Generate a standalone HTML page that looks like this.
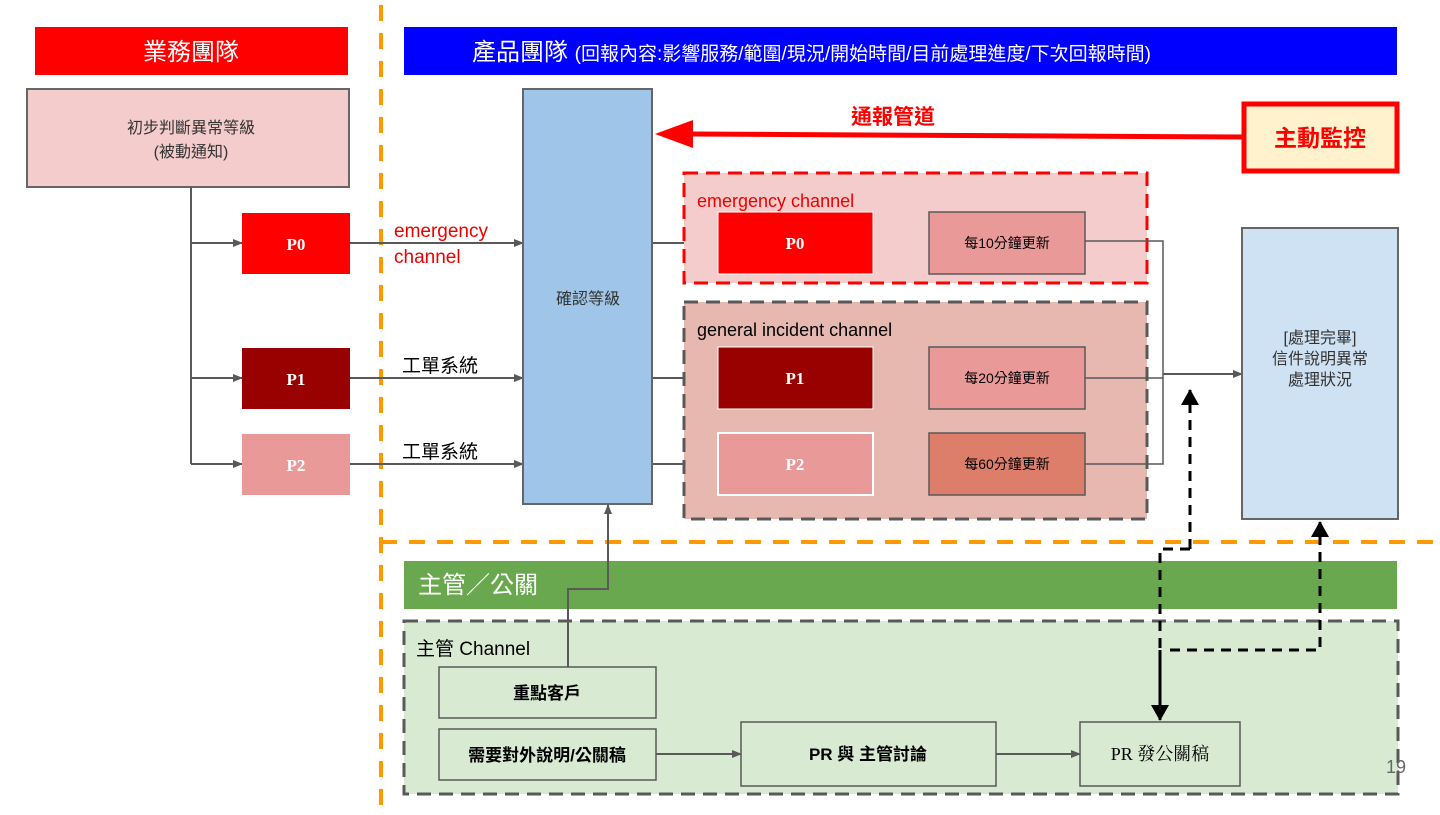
<!DOCTYPE html>
<html><head><meta charset="utf-8"><style>
html,body{margin:0;padding:0;background:#fff}
svg text{font-family:"Liberation Sans","Noto Sans CJK TC",sans-serif}
.s{font-family:"Liberation Serif","Noto Serif CJK SC",serif}
</style></head><body>
<svg width="1440" height="810" viewBox="0 0 1440 810" xmlns="http://www.w3.org/2000/svg">
<defs>
<marker id="a" markerWidth="10" markerHeight="8" refX="9" refY="4" orient="auto" markerUnits="userSpaceOnUse"><path d="M0,0L10,4L0,8z" fill="#595959"/></marker>
<marker id="b" markerWidth="16" markerHeight="18" refX="15" refY="9" orient="auto" markerUnits="userSpaceOnUse"><path d="M0,0L16,9L0,18z" fill="#000"/></marker>
<marker id="r" markerWidth="40" markerHeight="28" refX="2" refY="14" orient="auto" markerUnits="userSpaceOnUse"><path d="M40,0L0,14L40,28z" fill="#f00"/></marker>
</defs>
<!-- orange dividers -->
<line x1="381" y1="5" x2="381" y2="805" stroke="#f90" stroke-width="4" stroke-dasharray="16,12"/>
<line x1="381" y1="542" x2="1440" y2="542" stroke="#f90" stroke-width="4" stroke-dasharray="16,12"/>
<!-- headers -->
<rect x="35" y="27" width="313" height="48" fill="#f00"/>
<text x="191" y="60" font-size="24" fill="#fff" text-anchor="middle">業務團隊</text>
<rect x="404" y="27" width="993" height="48" fill="#00f"/>
<text x="472" y="60" font-size="24" fill="#fff">產品團隊 <tspan font-size="19">(回報內容:影響服務/範圍/現況/開始時間/目前處理進度/下次回報時間)</tspan></text>
<!-- left -->
<rect x="27" y="89" width="322" height="98" fill="#f4cccc" stroke="#666" stroke-width="2"/>
<text x="191" y="133" font-size="16" fill="#333" text-anchor="middle">初步判斷異常等級</text>
<text x="191" y="157" font-size="16" fill="#333" text-anchor="middle">(被動通知)</text>
<path d="M191,187V464" stroke="#595959" stroke-width="2" fill="none"/>
<g stroke="#595959" stroke-width="2" marker-end="url(#a)">
<line x1="191" y1="243" x2="242" y2="243"/><line x1="191" y1="378" x2="242" y2="378"/><line x1="191" y1="464" x2="242" y2="464"/>
<line x1="350" y1="243" x2="523" y2="243"/><line x1="350" y1="378" x2="523" y2="378"/><line x1="350" y1="464" x2="523" y2="464"/>
<line x1="652" y1="243" x2="718" y2="243"/><line x1="652" y1="378" x2="718" y2="378"/><line x1="652" y1="464" x2="718" y2="464"/>
<line x1="873" y1="243" x2="929" y2="243"/><line x1="873" y1="378" x2="929" y2="378"/><line x1="873" y1="464" x2="929" y2="464"/>
</g>
<rect x="242" y="213" width="108" height="61" fill="#f00"/>
<text x="296" y="250" class="s" font-size="17" font-weight="bold" fill="#fff" text-anchor="middle">P0</text>
<rect x="242" y="348" width="108" height="61" fill="#900"/>
<text x="296" y="385" class="s" font-size="17" font-weight="bold" fill="#fff" text-anchor="middle">P1</text>
<rect x="242" y="434" width="108" height="61" fill="#ea9999"/>
<text x="296" y="471" class="s" font-size="17" font-weight="bold" fill="#fff" text-anchor="middle">P2</text>
<text x="394" y="237" font-size="19" fill="#e00">emergency</text>
<text x="394" y="263" font-size="19" fill="#e00">channel</text>
<text x="402" y="372" font-size="19" fill="#000">工單系統</text>
<text x="402" y="458" font-size="19" fill="#000">工單系統</text>
<!-- confirm -->
<rect x="523" y="89" width="129" height="415" fill="#9fc5e8" stroke="#666" stroke-width="2"/>
<text x="588" y="304" font-size="16" fill="#333" text-anchor="middle">確認等級</text>
<!-- red arrow -->
<line x1="1242" y1="137" x2="693" y2="134" stroke="#f00" stroke-width="5"/>
<path d="M693,120L655,134L693,148z" fill="#f00"/>
<text x="893" y="124" font-size="21" font-weight="bold" fill="#f00" text-anchor="middle">通報管道</text>
<rect x="1244" y="104" width="153" height="67" fill="#fff2cc" stroke="#f00" stroke-width="5"/>
<text x="1320" y="146" font-size="23" font-weight="bold" fill="#f00" text-anchor="middle">主動監控</text>
<!-- channels -->
<rect x="684" y="173" width="463" height="110" fill="#f4cccc" stroke="#f00" stroke-width="3" stroke-dasharray="14,8"/>
<text x="697" y="207" font-size="18" fill="#e00">emergency channel</text>
<rect x="684" y="302" width="463" height="217" fill="#e6b8af" stroke="#595959" stroke-width="3" stroke-dasharray="14,8"/>
<text x="697" y="336" font-size="18" fill="#000">general incident channel</text>
<rect x="718" y="212" width="155" height="62" fill="#f00" stroke="#fff" stroke-width="1"/>
<text x="795" y="249" class="s" font-size="17" font-weight="bold" fill="#fff" text-anchor="middle">P0</text>
<rect x="718" y="347" width="155" height="62" fill="#900" stroke="#fff" stroke-width="1"/>
<text x="795" y="384" class="s" font-size="17" font-weight="bold" fill="#fff" text-anchor="middle">P1</text>
<rect x="718" y="433" width="155" height="62" fill="#ea9999" stroke="#fff" stroke-width="2"/>
<text x="795" y="470" class="s" font-size="17" font-weight="bold" fill="#fff" text-anchor="middle">P2</text>
<rect x="929" y="212" width="156" height="62" fill="#ea9999" stroke="#595959" stroke-width="1.5"/>
<text x="1007" y="248" font-size="14" fill="#000" text-anchor="middle">每10分鐘更新</text>
<rect x="929" y="347" width="156" height="62" fill="#ea9999" stroke="#595959" stroke-width="1.5"/>
<text x="1007" y="383" font-size="14" fill="#000" text-anchor="middle">每20分鐘更新</text>
<rect x="929" y="433" width="156" height="62" fill="#dd7e6b" stroke="#595959" stroke-width="1.5"/>
<text x="1007" y="469" font-size="14" fill="#000" text-anchor="middle">每60分鐘更新</text>
<path d="M1085,241H1163V464H1085M1085,378H1163" stroke="#595959" stroke-width="1.5" fill="none"/>
<line x1="1163" y1="374" x2="1242" y2="374" stroke="#595959" stroke-width="2" marker-end="url(#a)"/>
<rect x="1242" y="228" width="156" height="291" fill="#cfe2f3" stroke="#666" stroke-width="2"/>
<text x="1320" y="343" font-size="16" fill="#333" text-anchor="middle">[處理完畢]</text>
<text x="1320" y="364" font-size="16" fill="#333" text-anchor="middle">信件說明異常</text>
<text x="1320" y="385" font-size="16" fill="#333" text-anchor="middle">處理狀況</text>
<!-- bottom -->
<rect x="404" y="561" width="993" height="48" fill="#6aa84f"/>
<text x="418" y="593" font-size="24" fill="#fff">主管／公關</text>
<rect x="404" y="621" width="994" height="173" fill="#d9ead3" stroke="#595959" stroke-width="3" stroke-dasharray="14,8"/>
<text x="416" y="655" font-size="19" fill="#000">主管 Channel</text>
<g stroke="#595959" stroke-width="1.5" fill="#d9ead3">
<rect x="439" y="667" width="217" height="51"/>
<rect x="439" y="729" width="217" height="51"/>
<rect x="741" y="722" width="255" height="64"/>
<rect x="1080" y="722" width="160" height="64"/>
</g>
<text x="547" y="699" font-size="17" font-weight="bold" fill="#000" text-anchor="middle">重點客戶</text>
<text x="547" y="761" font-size="17" font-weight="bold" fill="#000" text-anchor="middle">需要對外說明/公關稿</text>
<text x="868" y="760" font-size="17" font-weight="bold" fill="#000" text-anchor="middle">PR 與 主管討論</text>
<text x="1160" y="760" class="s" font-size="18" fill="#000" text-anchor="middle">PR 發公關稿</text>
<g stroke="#595959" stroke-width="2" fill="none" marker-end="url(#a)">
<path d="M568,667V589H608V505"/>
<line x1="656" y1="754" x2="741" y2="754"/>
<line x1="996" y1="754" x2="1080" y2="754"/>
</g>
<g stroke="#000" stroke-width="3" fill="none" stroke-dasharray="10,7">
<path d="M1190,549H1160V650" />
<path d="M1190,549V390" marker-end="url(#b)"/>
<path d="M1170,650H1320V522" marker-end="url(#b)"/>
</g>
<line x1="1160" y1="650" x2="1160" y2="720" stroke="#000" stroke-width="3" marker-end="url(#b)"/>
<text x="1396" y="773" font-size="18" fill="#666" text-anchor="middle">19</text>
</svg>
</body></html>
